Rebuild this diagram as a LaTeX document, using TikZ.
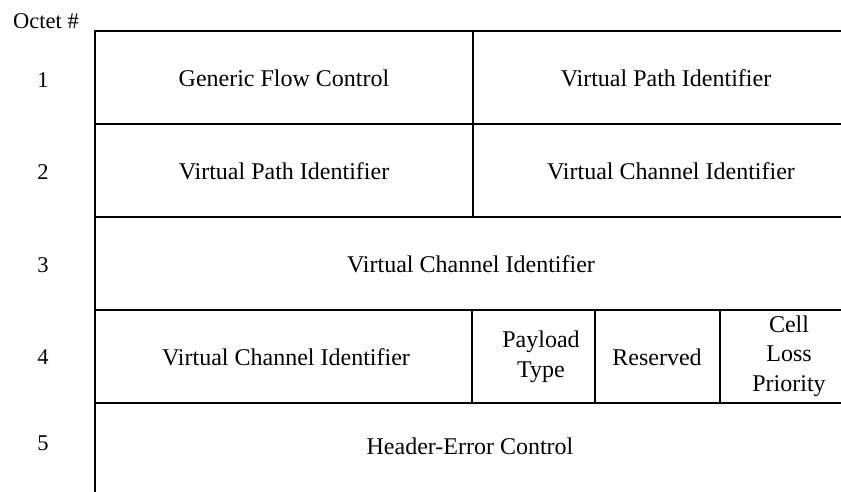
\documentclass[tikz,border=0pt]{standalone}
\usepackage{fontspec}
\setmainfont{Liberation Serif}
\begin{document}
\begin{tikzpicture}[x=1pt,y=-1pt,
  rule/.style={line width=1.8pt, line cap=rect},
  lbl/.style={font=\fontsize{24}{29.5}\selectfont, align=center, inner sep=0pt},
  olbl/.style={font=\fontsize{22.5}{27}\selectfont, align=center, inner sep=0pt}]
\useasboundingbox (0,0) rectangle (841,491);
% grid coordinates
\coordinate (tl) at (95,31);
\coordinate (bl) at (95,491);
\coordinate (tr) at (841,31);
\coordinate (r1l) at (95,124);  \coordinate (r1r) at (841,124);
\coordinate (r2l) at (95,217);  \coordinate (r2r) at (841,217);
\coordinate (r3l) at (95,310);  \coordinate (r3r) at (841,310);
\coordinate (r4l) at (95,403);  \coordinate (r4r) at (841,403);
\coordinate (vt) at (473,31);   \coordinate (vb) at (473,217);
\coordinate (a1) at (472,310);  \coordinate (a2) at (472,403);
\coordinate (b1) at (595,310);  \coordinate (b2) at (595,403);
\coordinate (c1) at (720,310);  \coordinate (c2) at (720,403);
% rules
\draw[rule] (tl) -- (bl);
\draw[rule] (tl) -- (tr);
\draw[rule] (r1l) -- (r1r);
\draw[rule] (r2l) -- (r2r);
\draw[rule] (r3l) -- (r3r);
\draw[rule] (r4l) -- (r4r);
\draw[rule] (vt) -- (vb);
\draw[rule] (a1) -- (a2);
\draw[rule] (b1) -- (b2);
\draw[rule] (c1) -- (c2);
% octet labels
\node[olbl] (oct) at (46,21) {Octet \#};
\node[olbl] (n1) at (43,80) {1};
\node[olbl] (n2) at (43,172) {2};
\node[olbl] (n3) at (43,265) {3};
\node[olbl] (n4) at (43,357) {4};
\node[olbl] (n5) at (43,443) {5};
% fields
\node[lbl] (gfc) at (284,78) {Generic Flow Control};
\node[lbl] (vpi1) at (666,78) {Virtual Path Identifier};
\node[lbl] (vpi2) at (284,171) {Virtual Path Identifier};
\node[lbl] (vci2) at (671,171) {Virtual Channel Identifier};
\node[lbl] (vci3) at (471,264) {Virtual Channel Identifier};
\node[lbl] (vci4) at (286,357) {Virtual Channel Identifier};
\node[lbl] (pt) at (541,357) {Payload\\Type};
\node[lbl] (res) at (657,357) {Reserved};
\node[lbl] (clp) at (789,356) {Cell\\Loss\\Priority};
\node[lbl] (hec) at (470,446) {Header-Error Control};
\end{tikzpicture}
\end{document}
